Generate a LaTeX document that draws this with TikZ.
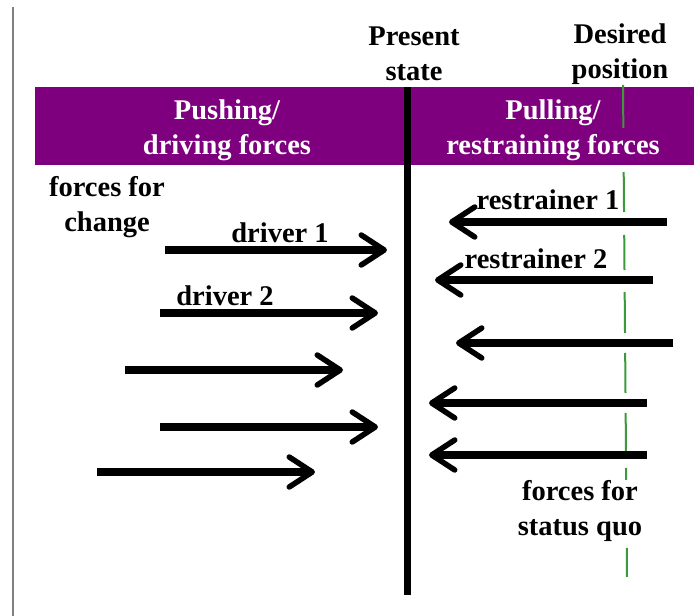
\documentclass[tikz,border=0pt]{standalone}
\usepackage{fontspec}
\setmainfont{Liberation Serif}
\usetikzlibrary{arrows.meta}
\definecolor{bandpurple}{HTML}{7F007F}
\definecolor{guidegreen}{HTML}{3C9A3C}
\begin{document}
\begin{tikzpicture}[x=1pt,y=-1pt,
  lbl/.style={font=\fontsize{28.5}{35}\selectfont\bfseries, align=center, inner sep=0pt},
  hdr/.style={lbl, text=white},
  force/.style={line width=8pt, -{Straight Barb[length=23pt,width=30pt,line width=5.5pt,round]}},
]
\useasboundingbox (0,0) rectangle (694,616);
\fill[white] (0,0) rectangle (694,616);

% frame edge on the left
\draw[gray, line width=2pt] (13,7) -- (13,616);

% header band
\fill[bandpurple] (35,87) rectangle (694,165);

% desired position guide
\draw[guidegreen, line width=2pt,
  dash pattern=on 43pt off 44pt on 40pt off 23pt on 35pt off 22pt on 41pt off 20pt on 40pt off 20pt on 45pt off 10pt on 12pt off 68pt on 29pt]
  (623,85) -- (627,578);

% present state line
\coordinate (ptop) at (407,87);
\coordinate (pbot) at (407,595);
\draw[line width=7pt] (ptop) -- (pbot);

% labels
\node[lbl] (present) at (414,54) {Present\\state};
\node[lbl] (desired) at (620,54) {Desired\\position};
\node[hdr] (push) at (227,130) {Pushing/\\driving forces};
\node[hdr] (pull) at (553,130) {Pulling/\\restraining forces};
\node[lbl] (change) at (107,207) {forces for\\change};
\node[lbl] (statusquo) at (580,511) {forces for\\status quo};
\node[lbl] (drv1) at (280,233) {driver 1};
\node[lbl] (drv2) at (225,296) {driver 2};
\node[lbl] (rst1) at (548,200) {restrainer 1};
\node[lbl] (rst2) at (536,259) {restrainer 2};

% driving forces
\coordinate (d1a) at (165,250); \coordinate (d1b) at (387,250);
\coordinate (d2a) at (160,313); \coordinate (d2b) at (378,313);
\coordinate (d3a) at (125,370); \coordinate (d3b) at (343,370);
\coordinate (d4a) at (160,427); \coordinate (d4b) at (378,427);
\coordinate (d5a) at (97,472);  \coordinate (d5b) at (315,472);
\draw[force] (d1a) -- (d1b);
\draw[force] (d2a) -- (d2b);
\draw[force] (d3a) -- (d3b);
\draw[force] (d4a) -- (d4b);
\draw[force] (d5a) -- (d5b);

% restraining forces
\coordinate (r1a) at (667,222); \coordinate (r1b) at (449,222);
\coordinate (r2a) at (653,280); \coordinate (r2b) at (435,280);
\coordinate (r3a) at (673,343); \coordinate (r3b) at (456,343);
\coordinate (r4a) at (647,403); \coordinate (r4b) at (429,403);
\coordinate (r5a) at (647,455); \coordinate (r5b) at (429,455);
\draw[force] (r1a) -- (r1b);
\draw[force] (r2a) -- (r2b);
\draw[force] (r3a) -- (r3b);
\draw[force] (r4a) -- (r4b);
\draw[force] (r5a) -- (r5b);
\end{tikzpicture}
\end{document}
